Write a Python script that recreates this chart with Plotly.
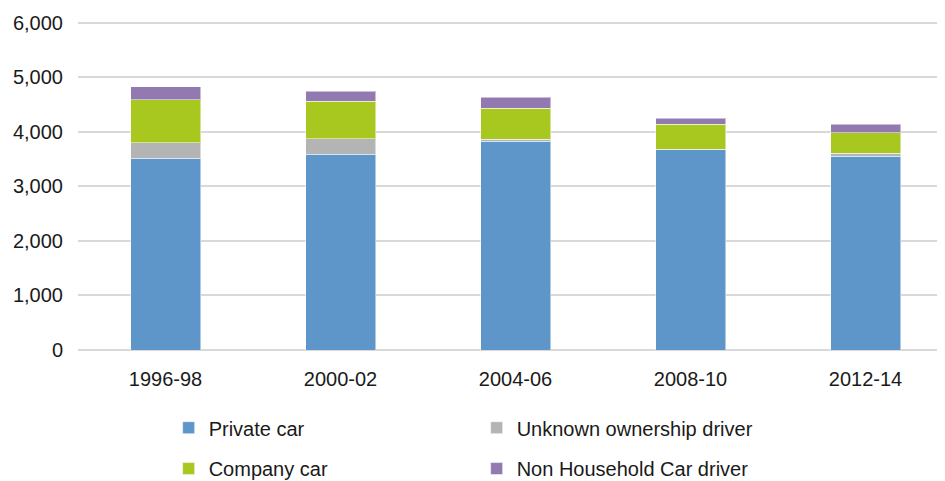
import plotly.graph_objects as go

periods = ["1996-98", "2000-02", "2004-06", "2008-10", "2012-14"]

private_car = [3517, 3590, 3830, 3670, 3553]
unknown_owner = [283, 283, 36, 6, 50]
company_car = [790, 686, 570, 460, 380]
non_household = [240, 184, 196, 110, 153]

txt = "#1a1a1a"
font = "Liberation Sans, Arial, sans-serif"

fig = go.Figure()
# first legend row: private + unknown, second row: company + non household
fig.add_trace(go.Bar(x=periods, y=private_car, name="Private car",
                     marker=dict(color="#5f96c9", line=dict(color="rgba(255,255,255,0.5)", width=1)),
                     legend="legend"))
fig.add_trace(go.Bar(x=periods, y=unknown_owner, name="Unknown ownership driver",
                     marker=dict(color="#b4b4b4", line=dict(color="rgba(255,255,255,0.5)", width=1)),
                     legend="legend"))
fig.add_trace(go.Bar(x=periods, y=company_car, name="Company car",
                     marker=dict(color="#a8c71f", line=dict(color="rgba(255,255,255,0.5)", width=1)),
                     legend="legend2"))
fig.add_trace(go.Bar(x=periods, y=non_household, name="Non Household Car driver",
                     marker=dict(color="#927ab0", line=dict(color="rgba(255,255,255,0.5)", width=1)),
                     legend="legend2"))

legend_style = dict(orientation="h", xref="container", yref="container",
                    xanchor="left", yanchor="top", entrywidth=263,
                    font=dict(family=font, size=20, color=txt),
                    bgcolor="rgba(0,0,0,0)", traceorder="normal")

fig.update_layout(
    barmode="stack",
    bargap=0.6,
    width=945, height=481,
    margin=dict(l=70, r=0, t=12, b=139, autoexpand=False),
    plot_bgcolor="white", paper_bgcolor="white",
    font=dict(family=font, size=20, color=txt),
    legend=dict(x=0.170, y=0.168, **legend_style),
    legend2=dict(x=0.170, y=0.083, **legend_style),
    xaxis=dict(type="category", range=[-0.5, 4.5], showgrid=False, showline=False,
               ticks="", automargin=False,
               ticklabelstandoff=15, tickfont=dict(size=20, color=txt)),
    yaxis=dict(range=[0, 6050], dtick=1000, tickformat=",", showgrid=True,
               gridcolor="#d9d9d9", gridwidth=1.5, zeroline=True, automargin=False,
               zerolinecolor="#d9d9d9", zerolinewidth=1.5, ticks="",
               ticklabelstandoff=14, tickfont=dict(size=20, color=txt)),
)

fig.write_html("out.html")
